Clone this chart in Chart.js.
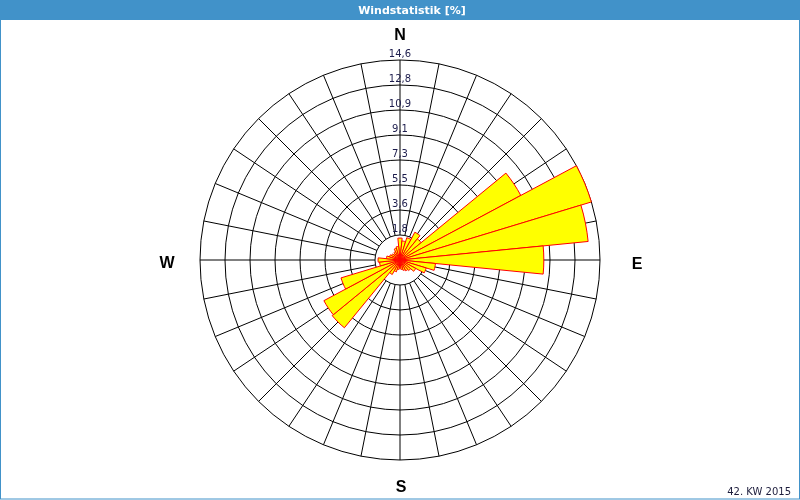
<!DOCTYPE html>
<html>
<head>
<meta charset="utf-8">
<script src="https://cdn.jsdelivr.net/npm/chart.js@4/dist/chart.umd.min.js"></script>
<style>
  html, body { margin: 0; padding: 0; background: #ffffff; }
  #wrap { width: 800px; height: 500px; }
</style>
</head>
<body>
<div id="wrap"><canvas id="rose" width="800" height="500"></canvas></div>
<script>
// 32 compass sectors, clockwise from north
const directions = ['N','NzO','NNO','NOzN','NO','NOzO','ONO','OzN',
                    'O','OzS','OSO','SOzO','SO','SOzS','SSO','SzO',
                    'S','SzW','SSW','SWzS','SW','SWzW','WSW','WzS',
                    'W','WzN','WNW','NWzW','NW','NWzN','NNW','NzW'];
// share of the week per sector [%]
const windShare = [1.6, 1.4, 1.7, 2.3, 2.0, 10.0, 14.6, 13.8,
                   10.5, 2.6, 2.0, 1.3, 1.0, 0.9, 0.8, 0.7,
                   0.6, 0.7, 0.9, 1.2, 6.4, 6.3, 4.5, 1.5,
                   1.6, 1.0, 0.8, 0.7, 0.6, 0.7, 0.9, 1.0];
// ring values and their printed labels
const ringValues = [1.825, 3.65, 5.475, 7.3, 9.125, 10.95, 12.775, 14.6];
const ringLabels = ['1,8', '3,6', '5,5', '7,3', '9,1', '10,9', '12,8', '14,6'];
const compassLabels = ['N', 'E', 'S', 'W'];
const titleText = 'Windstatistik [%]';
const footerText = '42. KW 2015';

const BLUE = '#4192c9';

const decor = {
  id: 'roseDecor',
  beforeDraw(chart) {
    const ctx = chart.ctx;
    ctx.save();
    ctx.fillStyle = '#ffffff';
    ctx.fillRect(0, 0, chart.width, chart.height);
    ctx.fillStyle = BLUE;
    ctx.fillRect(0, 0, chart.width, 20);
    ctx.strokeStyle = BLUE;
    ctx.lineWidth = 1;
    ctx.strokeRect(0.5, 0.5, chart.width - 1, chart.height - 1.5);
    ctx.fillStyle = '#ffffff';
    ctx.font = 'bold 11px "DejaVu Sans"';
    ctx.textAlign = 'center';
    ctx.textBaseline = 'alphabetic';
    ctx.fillText(titleText, 412, 14);
    ctx.restore();
  },
  beforeDatasetsDraw(chart) {
    const r = chart.scales.r;
    const ctx = chart.ctx;
    const inner = r.getDistanceFromCenterForValue(ringValues[0]);
    const outer = r.getDistanceFromCenterForValue(ringValues[ringValues.length - 1]);
    ctx.save();
    ctx.strokeStyle = '#000000';
    ctx.lineWidth = 1;
    // spokes through every sector centre, from the first ring outwards
    const n = directions.length;
    for (let i = 0; i < n; i++) {
      const a = -Math.PI / 2 + i * 2 * Math.PI / n;
      ctx.beginPath();
      ctx.moveTo(r.xCenter + inner * Math.cos(a), r.yCenter + inner * Math.sin(a));
      ctx.lineTo(r.xCenter + outer * Math.cos(a), r.yCenter + outer * Math.sin(a));
      ctx.stroke();
    }
    // rings
    ringValues.forEach(v => {
      const d = r.getDistanceFromCenterForValue(v);
      ctx.beginPath();
      ctx.arc(r.xCenter, r.yCenter, d, 0, 2 * Math.PI);
      ctx.stroke();
    });
    ctx.restore();
  },
  afterDatasetsDraw(chart) {
    const r = chart.scales.r;
    const ctx = chart.ctx;
    const R = r.drawingArea;
    ctx.save();
    // ring labels along the north spoke
    ctx.fillStyle = '#1c1c4c';
    ctx.font = '10px "DejaVu Sans"';
    ctx.textAlign = 'center';
    ctx.textBaseline = 'alphabetic';
    ringValues.forEach((v, i) => {
      const d = r.getDistanceFromCenterForValue(v);
      ctx.fillText(ringLabels[i], r.xCenter, r.yCenter - d - 3);
    });
    // compass letters
    ctx.fillStyle = '#000000';
    ctx.font = 'bold 16px "Liberation Sans"';
    ctx.textBaseline = 'middle';
    const pos = [[0, -R - 24], [R + 37, 5], [1, R + 28], [-R - 33, 4]];
    compassLabels.forEach((t, i) => {
      ctx.fillText(t, r.xCenter + pos[i][0], r.yCenter + pos[i][1]);
    });
    // footer
    ctx.fillStyle = '#1c1c3c';
    ctx.font = '10px "DejaVu Sans"';
    ctx.textAlign = 'right';
    ctx.textBaseline = 'alphabetic';
    ctx.fillText(footerText, 791, 495);
    ctx.restore();
  }
};

new Chart(document.getElementById('rose'), {
  type: 'polarArea',
  data: {
    labels: directions,
    datasets: [{
      data: windShare,
      backgroundColor: '#ffff00',
      borderColor: '#ff0000',
      borderWidth: 1
    }]
  },
  options: {
    responsive: false,
    animation: false,
    layout: { padding: { top: 60, bottom: 40, left: 0, right: 0 } },
    plugins: {
      legend: { display: false },
      tooltip: { enabled: false },
      title: { display: false }
    },
    scales: {
      r: {
        min: 0,
        max: ringValues[ringValues.length - 1],
        startAngle: -180 / directions.length,
        ticks: { display: false, stepSize: ringValues[0] },
        grid: { display: false },
        angleLines: { display: false },
        pointLabels: { display: false }
      }
    }
  },
  plugins: [decor]
});
</script>
</body>
</html>
